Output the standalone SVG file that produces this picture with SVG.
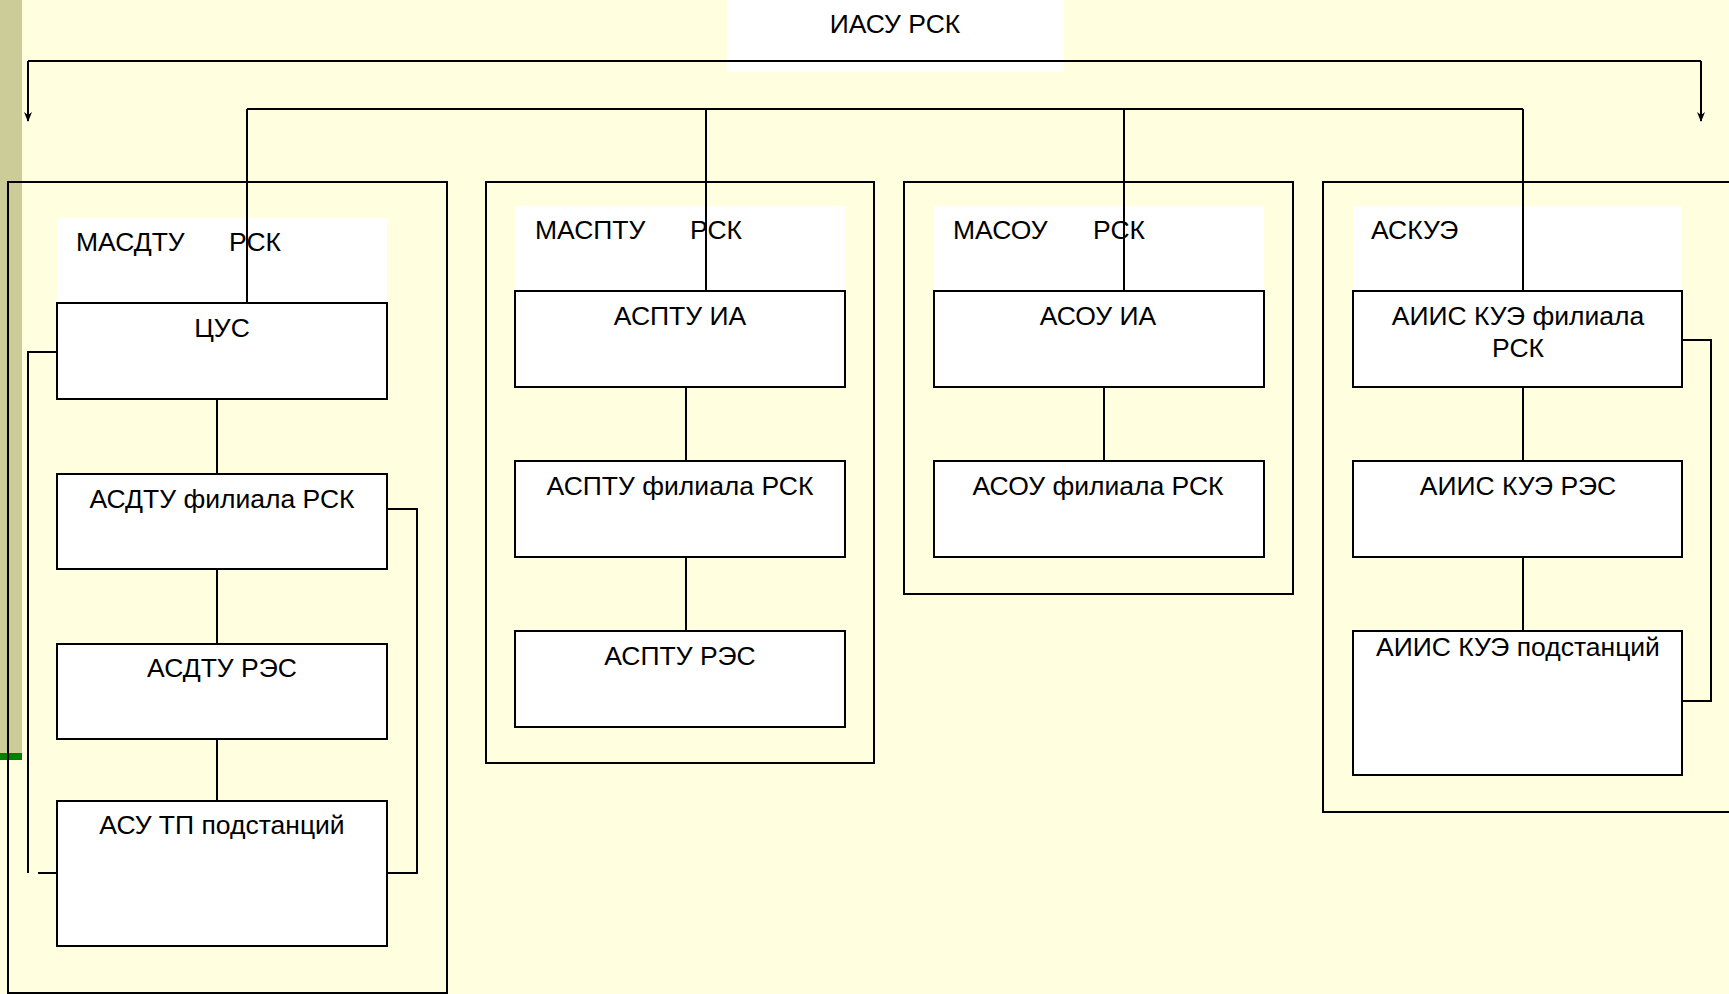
<svg xmlns="http://www.w3.org/2000/svg" width="1729" height="994" viewBox="0 0 1729 994">
<defs>
<marker id="arr" viewBox="0 0 10 10" refX="9" refY="5" markerWidth="10" markerHeight="10" markerUnits="userSpaceOnUse" orient="auto">
<path d="M0,1 L10,5 L0,9 L3,5 Z" fill="#000"/>
</marker>
</defs>
<style>
.bg{fill:#FFFFDF}
.cont{fill:none;stroke:#000;stroke-width:2}
.lab{fill:#FFFFFF}
.box{fill:#FFFFFF;stroke:#000;stroke-width:2}
.ln{fill:none;stroke:#000;stroke-width:2}
text{font-family:"Liberation Sans",Arial,sans-serif;font-size:26.5px;fill:#000}
.c{text-anchor:middle}
</style>
<rect class="bg" x="0" y="0" width="1729" height="994"/>
<rect x="0" y="0" width="22" height="757" fill="#CCCC99"/>
<rect x="0" y="753" width="22" height="7" fill="#008000"/>

<g id="iasu">
<rect class="lab" x="727" y="0" width="337" height="72"/>
<text class="c" x="895" y="33">ИАСУ РСК</text>
</g>

<g id="masdtu">
<rect class="cont" x="8" y="182" width="439" height="811"/>
<rect class="lab" x="57" y="218" width="330" height="85"/>
<text x="76" y="251">МАСДТУ</text>
<text x="229" y="251">РСК</text>
</g>
<g id="maspstu">
<rect class="cont" x="486" y="182" width="388" height="581"/>
<rect class="lab" x="515" y="206" width="330" height="85"/>
<text x="535" y="239">МАСПТУ</text>
<text x="690" y="239">РСК</text>
</g>
<g id="masou">
<rect class="cont" x="904" y="182" width="389" height="412"/>
<rect class="lab" x="934" y="206" width="330" height="85"/>
<text x="953" y="239">МАСОУ</text>
<text x="1093" y="239">РСК</text>
</g>
<g id="askue">
<rect class="cont" x="1323" y="182" width="420" height="630"/>
<rect class="lab" x="1353" y="206" width="329" height="85"/>
<text x="1371" y="239">АСКУЭ</text>
</g>

<g id="connectors">
<path class="ln" d="M28,61 H1701" />
<path class="ln" d="M28,61 V121" marker-end="url(#arr)"/>
<path class="ln" d="M1701,61 V121" marker-end="url(#arr)"/>
<path class="ln" d="M247,109 H1523"/>
<path class="ln" d="M247,109 V303"/>
<path class="ln" d="M706,109 V291"/>
<path class="ln" d="M1124,109 V291"/>
<path class="ln" d="M1523,109 V291"/>
<path class="ln" d="M217,399 V474 M217,569 V644 M217,739 V801"/>
<path class="ln" d="M686,387 V461 M686,557 V631"/>
<path class="ln" d="M1104,387 V461"/>
<path class="ln" d="M1523,387 V461 M1523,557 V631"/>
<path class="ln" d="M57,352 H28 V873 M38,873 H57"/>
<path class="ln" d="M387,509 H417 V873 H387"/>
<path class="ln" d="M1682,340 H1711 V701 H1682"/>
</g>

<g id="cus"><rect class="box" x="57" y="303" width="330" height="96"/><text class="c" x="222" y="337">ЦУС</text></g>
<g id="asdtu-fil"><rect class="box" x="57" y="474" width="330" height="95"/><text class="c" x="222" y="508">АСДТУ филиала РСК</text></g>
<g id="asdtu-res"><rect class="box" x="57" y="644" width="330" height="95"/><text class="c" x="222" y="677">АСДТУ РЭС</text></g>
<g id="asu-tp"><rect class="box" x="57" y="801" width="330" height="145"/><text class="c" x="222" y="834">АСУ ТП подстанций</text></g>

<g id="asptu-ia"><rect class="box" x="515" y="291" width="330" height="96"/><text class="c" x="680" y="325">АСПТУ ИА</text></g>
<g id="asptu-fil"><rect class="box" x="515" y="461" width="330" height="96"/><text class="c" x="680" y="495">АСПТУ филиала РСК</text></g>
<g id="asptu-res"><rect class="box" x="515" y="631" width="330" height="96"/><text class="c" x="680" y="665">АСПТУ РЭС</text></g>

<g id="asou-ia"><rect class="box" x="934" y="291" width="330" height="96"/><text class="c" x="1098" y="325">АСОУ ИА</text></g>
<g id="asou-fil"><rect class="box" x="934" y="461" width="330" height="96"/><text class="c" x="1098" y="495">АСОУ филиала РСК</text></g>

<g id="aiis-fil"><rect class="box" x="1353" y="291" width="329" height="96"/><text class="c" x="1518" y="325">АИИС КУЭ филиала</text><text class="c" x="1518" y="357">РСК</text></g>
<g id="aiis-res"><rect class="box" x="1353" y="461" width="329" height="96"/><text class="c" x="1518" y="495">АИИС КУЭ РЭС</text></g>
<g id="aiis-ps"><rect class="box" x="1353" y="631" width="329" height="144"/><text class="c" x="1518" y="656">АИИС КУЭ подстанций</text></g>
</svg>
